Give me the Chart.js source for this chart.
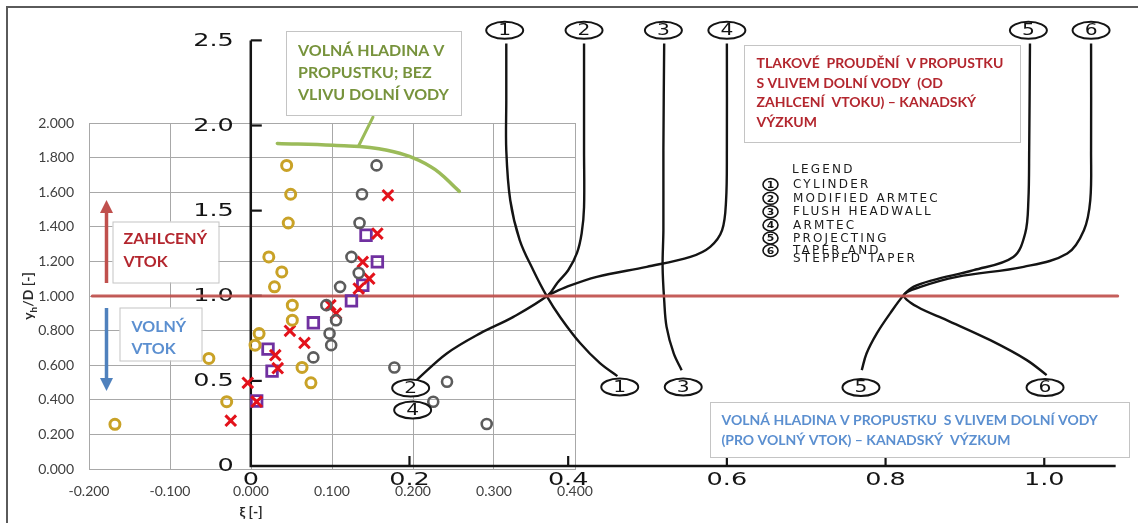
<!DOCTYPE html>
<html>
<head>
<meta charset="utf-8">
<script src="https://cdn.jsdelivr.net/npm/chart.js@4.4.1/dist/chart.umd.min.js"></script>
<style>
  html, body { margin: 0; padding: 0; background: #fff; }
  canvas { display: block; }
</style>
</head>
<body>
<canvas id="c" width="1138" height="523"></canvas>
<script>
// ---- measured points: ξ [-] against yh/D [-] ----
const goldXi = [0.044, 0.049, 0.046, 0.022, 0.038, 0.029, 0.051, 0.051, 0.010, 0.005, -0.052, 0.063, 0.074, -0.030, -0.168];
const goldY  = [1.755, 1.588, 1.422, 1.226, 1.139, 1.053, 0.947, 0.860, 0.783, 0.716, 0.639, 0.587, 0.498, 0.389, 0.258];
const grayXi = [0.155, 0.137, 0.134, 0.124, 0.133, 0.110, 0.093, 0.105, 0.097, 0.099, 0.077, 0.177, 0.242, 0.225, 0.291];
const grayY  = [1.755, 1.588, 1.422, 1.226, 1.133, 1.053, 0.947, 0.860, 0.783, 0.716, 0.645, 0.587, 0.504, 0.389, 0.260];
const redXi  = [0.169, 0.156, 0.138, 0.146, 0.133, 0.098, 0.105, 0.048, 0.066, 0.030, 0.033, -0.004, -0.025, 0.007];
const redY   = [1.582, 1.361, 1.197, 1.100, 1.043, 0.947, 0.899, 0.799, 0.729, 0.658, 0.583, 0.498, 0.279, 0.389];
const purpleXi = [0.142, 0.156, 0.138, 0.124, 0.077, 0.021, 0.026, 0.007];
const purpleY  = [1.351, 1.197, 1.062, 0.972, 0.845, 0.693, 0.566, 0.393];

// ---- Canadian research curves (their own axes: x 0..1.0, y 0..2.5) ----
const curve1 = [[0.322,2.482],[0.322,2.148],[0.322,1.854],[0.327,1.561],[0.339,1.326],[0.356,1.150],[0.373,0.998],[0.390,0.874],[0.415,0.722],[0.440,0.604],[0.462,0.528]];
const curve2 = [[0.420,2.482],[0.420,1.854],[0.420,1.520],[0.417,1.367],[0.411,1.250],[0.400,1.150],[0.386,1.074],[0.375,1.004],[0.331,0.876],[0.289,0.779],[0.247,0.661],[0.209,0.505]];
const curve3 = [[0.521,2.482],[0.520,1.854],[0.520,1.385],[0.519,1.170],[0.521,0.974],[0.524,0.817],[0.533,0.661],[0.543,0.563]];
const curve4 = [[0.600,2.482],[0.600,1.854],[0.599,1.561],[0.594,1.385],[0.579,1.287],[0.554,1.228],[0.499,1.170],[0.436,1.111],[0.398,1.052],[0.375,1.004]];
const curve5 = [[0.982,2.482],[0.981,1.854],[0.980,1.561],[0.976,1.367],[0.961,1.228],[0.911,1.150],[0.860,1.092],[0.835,1.052],[0.823,1.004],[0.806,0.898],[0.789,0.779],[0.776,0.661],[0.770,0.563]];
const curve6 = [[1.059,2.482],[1.059,1.854],[1.058,1.561],[1.050,1.385],[1.029,1.248],[0.974,1.170],[0.890,1.111],[0.844,1.052],[0.823,1.004],[0.840,0.935],[0.877,0.857],[0.932,0.739],[0.978,0.622],[1.003,0.534]];
const curveTagsTop    = [['1',0.320,2.559],['2',0.420,2.559],['3',0.520,2.559],['4',0.600,2.559],['5',0.980,2.559],['6',1.059,2.559]];
const curveTagsBottom = [['1',0.465,0.464],['3',0.545,0.464],['2',0.2015,0.458],['4',0.204,0.329],['5',0.769,0.461],['6',1.001,0.461]];

// ---- annotations on the ξ / yh/D axes ----
const regimeLine = [[-0.196,1.0],[1.07,1.0]];
const freeSurfaceArc = [[0.0325,1.882],[0.1016,1.871],[0.168,1.842],[0.2214,1.749],[0.2572,1.605]];
const freeSurfacePointer = [[0.1506,2.034],[0.1328,1.867]];

// ---- tick values and labels ----
const xiTicks = [-0.2, -0.1, 0, 0.1, 0.2, 0.3, 0.4];
const yTicks  = [0, 0.2, 0.4, 0.6, 0.8, 1.0, 1.2, 1.4, 1.6, 1.8, 2.0];
const scanXTicks  = [0, 0.2, 0.4, 0.6, 0.8, 1.0];
const scanXLabels = ['0', '0.2', '0.4', '0.6', '0.8', '1.0'];
const scanYTicks  = [0, 0.5, 1.0, 1.5, 2.0, 2.5];
const scanYLabels = ['0', '0.5', '1.0', '1.5', '2.0', '2.5'];
const scanXEnd = 1.09;

const zip = (xs, ys) => xs.map((x, i) => ({ x, y: ys[i] }));
const pairs = arr => arr.map(p => ({ x: p[0], y: p[1] }));
// fixed ranges set after data limits, so lines running past the plot edge are not trimmed
const fixRange = (lo, hi) => s => { s.min = lo; s.max = hi; };

function markerSet(xs, ys, style, color, radius, width) {
  return {
    data: zip(xs, ys), pointStyle: style, pointRadius: radius, pointBorderWidth: width,
    borderColor: color, pointBorderColor: color, backgroundColor: 'rgba(0,0,0,0)',
    pointBackgroundColor: 'rgba(0,0,0,0)', showLine: false, clip: false, order: 1
  };
}
function scanCurve(pts) {
  return {
    data: pairs(pts), xAxisID: 'xs', yAxisID: 'ys', showLine: true, pointRadius: 0,
    borderColor: '#141414', borderWidth: 2.4, tension: 0.35, clip: false, order: 3
  };
}
function guide(pts, color, width, tension) {
  return {
    data: pairs(pts), showLine: true, pointRadius: 0, borderColor: color,
    borderWidth: width, tension: tension, clip: false, order: 2, borderCapStyle: 'round'
  };
}

function stretchText(ctx, txt, x, y, align, sx, font) {
  ctx.save();
  ctx.translate(x, y);
  ctx.scale(sx, 1);
  ctx.font = font;
  ctx.textAlign = align;
  ctx.textBaseline = 'middle';
  ctx.fillText(txt, 0, 0);
  ctx.restore();
}
function tag(ctx, cx, cy, rx, ry, txt, font, sx, lw) {
  ctx.beginPath();
  ctx.ellipse(cx, cy, rx, ry, 0, 0, Math.PI * 2);
  ctx.fillStyle = '#fff';
  ctx.fill();
  ctx.lineWidth = lw;
  ctx.strokeStyle = '#141414';
  ctx.stroke();
  ctx.fillStyle = '#141414';
  stretchText(ctx, txt, cx, cy + 1, 'center', sx, font);
}
function textBox(ctx, x, y, w, h, lines, color, font, tx, baselines) {
  ctx.fillStyle = '#fff';
  ctx.fillRect(x, y, w, h);
  ctx.strokeStyle = '#c4c4c4';
  ctx.lineWidth = 1;
  ctx.strokeRect(x + 0.5, y + 0.5, w, h);
  ctx.fillStyle = color;
  ctx.font = font;
  ctx.textAlign = 'left';
  ctx.textBaseline = 'alphabetic';
  lines.forEach((l, i) => ctx.fillText(l, tx, baselines[i]));
}
function arrow(ctx, x, y0, y1, color) {
  const dir = Math.sign(y1 - y0);
  ctx.strokeStyle = color;
  ctx.fillStyle = color;
  ctx.lineWidth = 3.5;
  ctx.beginPath();
  ctx.moveTo(x, y0);
  ctx.lineTo(x, y1 - dir * 10);
  ctx.stroke();
  ctx.beginPath();
  ctx.moveTo(x, y1);
  ctx.lineTo(x - 6.5, y1 - dir * 13);
  ctx.lineTo(x + 6.5, y1 - dir * 13);
  ctx.closePath();
  ctx.fill();
}

const scanAxes = {
  id: 'scanAxes',
  beforeDatasetsDraw(chart) {
    const ctx = chart.ctx, xs = chart.scales.xs, ys = chart.scales.ys;
    const x0 = xs.getPixelForValue(0), y0 = ys.getPixelForValue(0);
    ctx.save();
    ctx.strokeStyle = '#141414';
    ctx.lineWidth = 2.5;
    ctx.beginPath();
    ctx.moveTo(x0, ys.getPixelForValue(scanYTicks[scanYTicks.length - 1]));
    ctx.lineTo(x0, y0);
    ctx.lineTo(xs.getPixelForValue(scanXEnd), y0);
    ctx.stroke();
    ctx.lineWidth = 2.2;
    scanYTicks.slice(1).forEach(v => {
      const py = ys.getPixelForValue(v);
      ctx.beginPath(); ctx.moveTo(x0, py); ctx.lineTo(x0 + 11, py); ctx.stroke();
    });
    scanXTicks.slice(1).forEach(v => {
      const px = xs.getPixelForValue(v);
      ctx.beginPath(); ctx.moveTo(px, y0); ctx.lineTo(px, y0 - 10); ctx.stroke();
    });
    ctx.fillStyle = '#141414';
    const f = '17px "DejaVu Sans"';
    scanYTicks.forEach((v, i) => stretchText(ctx, scanYLabels[i], x0 - 17, ys.getPixelForValue(v) + 1, 'right', 1.5, f));
    scanXTicks.forEach((v, i) => stretchText(ctx, scanXLabels[i], xs.getPixelForValue(v), y0 + 15, 'center', 1.5, f));
    ctx.restore();
  },
  afterDraw(chart) {
    const ctx = chart.ctx, xs = chart.scales.xs, ys = chart.scales.ys;
    ctx.save();
    // circled curve numbers
    curveTagsTop.concat(curveTagsBottom).forEach(t => {
      tag(ctx, xs.getPixelForValue(t[1]), ys.getPixelForValue(t[2]), 18.5, 8.5, t[0], '15px "DejaVu Sans"', 1.35, 2);
    });
    // legend of the research curves
    const legendFont = '12px "DejaVu Sans"';
    const legendText = (txt, x, y) => {
      ctx.letterSpacing = '2.2px';
      ctx.fillStyle = '#1c1c1c';
      ctx.font = legendFont;
      ctx.textAlign = 'left';
      ctx.textBaseline = 'middle';
      ctx.fillText(txt, x, y);
      ctx.letterSpacing = '0px';
    };
    legendText('LEGEND', 792, 170);
    const legendRows = [['1', 'CYLINDER', 184.5], ['2', 'MODIFIED ARMTEC', 198.3], ['3', 'FLUSH HEADWALL', 211.7],
                        ['4', 'ARMTEC', 225], ['5', 'PROJECTING', 238], ['6', 'TAPER AND', 250.5]];
    legendRows.forEach(r => {
      legendText(r[1], 793, r[2] + 0.5);
      tag(ctx, 770.5, r[2], 7.5, 6, r[0], 'bold 9px "DejaVu Sans"', 1.2, 1.6);
    });
    legendText('STEPPED TAPER', 793, 259);

    // text boxes
    textBox(ctx, 286, 31, 175, 84, ['VOLNÁ HLADINA V', 'PROPUSTKU; BEZ', 'VLIVU DOLNÍ VODY'],
            '#77933C', 'bold 16px Lato', 298, [55.5, 78, 100]);
    textBox(ctx, 744, 45, 276, 97, ['TLAKOVÉ  PROUDĚNÍ  V PROPUSTKU', 'S VLIVEM DOLNÍ VODY  (OD', 'ZAHLCENÍ  VTOKU) – KANADSKÝ', 'VÝZKUM'],
            '#B3262E', 'bold 14px Lato', 756.5, [68, 87.5, 107, 126.5]);
    textBox(ctx, 710, 402, 419, 55, ['VOLNÁ HLADINA V PROPUSTKU  S VLIVEM DOLNÍ VODY', '(PRO VOLNÝ VTOK) – KANADSKÝ  VÝZKUM'],
            '#5B8FD0', 'bold 14px Lato', 721.5, [425, 445]);
    textBox(ctx, 112.5, 221.5, 106, 61, ['ZAHLCENÝ', 'VTOK'], '#B3262E', 'bold 16px Lato', 123.5, [243.5, 266.5]);
    textBox(ctx, 119.5, 307.5, 82, 53, ['VOLNÝ', 'VTOK'], '#5B8FD0', 'bold 16px Lato', 131.5, [331.5, 354]);

    // regime arrows
    arrow(ctx, 106.5, 283, 200, '#C0504D');
    arrow(ctx, 106.5, 308, 391, '#4F81BD');

    // axis titles
    ctx.fillStyle = '#2a2a2a';
    ctx.textBaseline = 'alphabetic';
    ctx.save();
    ctx.translate(33, 296);
    ctx.rotate(-Math.PI / 2);
    ctx.font = 'bold 14px Lato';
    const wY = ctx.measureText('y').width;
    ctx.font = 'bold 10px Lato';
    const wH = ctx.measureText('h').width;
    ctx.font = 'bold 14px Lato';
    const rest = '/D [-]';
    const total = wY + wH + ctx.measureText(rest).width;
    let cx = -total / 2;
    ctx.textAlign = 'left';
    ctx.fillText('y', cx, 0); cx += wY;
    ctx.font = 'bold 10px Lato';
    ctx.fillText('h', cx, 4); cx += wH;
    ctx.font = 'bold 14px Lato';
    ctx.fillText(rest, cx, 0);
    ctx.restore();
    ctx.font = 'bold 14px Lato';
    ctx.textAlign = 'center';
    ctx.fillText('ξ [-]', chart.scales.x.getPixelForValue(0), 517);

    // picture frame
    ctx.strokeStyle = '#5a5a5a';
    ctx.lineWidth = 2;
    ctx.beginPath();
    ctx.moveTo(7, 523);
    ctx.lineTo(7, 7);
    ctx.lineTo(1138, 7);
    ctx.stroke();
    ctx.restore();
  }
};

const gridColor = '#a8a8a8';
new Chart(document.getElementById('c'), {
  type: 'scatter',
  data: {
    datasets: [
      markerSet(goldXi, goldY, 'circle', '#C9A227', 5, 3),
      markerSet(grayXi, grayY, 'circle', '#5c5c5c', 5, 2.6),
      markerSet(redXi, redY, 'crossRot', '#E3121B', 7.5, 3),
      markerSet(purpleXi, purpleY, 'rect', '#7030A0', 7.5, 2.8),
      guide(regimeLine, 'rgba(192,80,77,0.92)', 3, 0),
      guide(freeSurfaceArc, '#9BBB59', 3.5, 0.4),
      guide(freeSurfacePointer, '#9BBB59', 3, 0),
      scanCurve(curve1), scanCurve(curve2), scanCurve(curve3),
      scanCurve(curve4), scanCurve(curve5), scanCurve(curve6)
    ]
  },
  options: {
    responsive: false,
    animation: false,
    devicePixelRatio: 1,
    events: [],
    layout: { padding: { left: 0, top: 123, right: 563, bottom: 0 } },
    plugins: { legend: { display: false }, tooltip: { enabled: false } },
    scales: {
      x: {
        type: 'linear', position: 'bottom', bounds: 'data',
        afterDataLimits: fixRange(-0.2, 0.4),
        afterBuildTicks: s => { s.ticks = xiTicks.map(v => ({ value: v })); },
        afterFit: s => { s.height = 54; },
        grid: { color: gridColor, drawTicks: false, lineWidth: 1 },
        border: { color: gridColor },
        ticks: { padding: 14, color: '#404040', font: { family: 'Lato', size: 14 }, maxRotation: 0,
                 callback: v => v.toFixed(3) }
      },
      y: {
        type: 'linear', position: 'left', bounds: 'data',
        afterDataLimits: fixRange(0, 2),
        afterBuildTicks: s => { s.ticks = yTicks.map(v => ({ value: v })); },
        afterFit: s => { s.width = 89; },
        grid: { color: gridColor, drawTicks: false, lineWidth: 1 },
        border: { color: gridColor },
        ticks: { padding: 15, color: '#404040', font: { family: 'Lato', size: 14 },
                 callback: v => v.toFixed(3) }
      },
      xs: { type: 'linear', display: false, bounds: 'data', afterDataLimits: fixRange(-0.2039, 0.4086) },
      ys: { type: 'linear', display: false, bounds: 'data', afterDataLimits: fixRange(-0.0176, 2.0147) }
    }
  },
  plugins: [scanAxes]
});
</script>
</body>
</html>
